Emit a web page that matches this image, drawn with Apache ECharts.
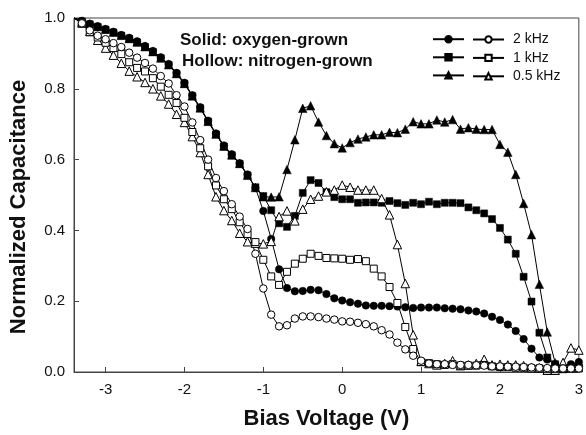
<!DOCTYPE html>
<html>
<head>
<meta charset="utf-8">
<script src="https://cdn.jsdelivr.net/npm/echarts@6/dist/echarts.min.js"></script>
<style>
  html, body { margin: 0; padding: 0; background: #fff; }
  #chart { width: 586px; height: 435px; }
</style>
</head>
<body>
<div id="chart"></div>
<script>
// Bias voltage sweep (V)
const voltage = [
  -3.4, -3.3, -3.2, -3.1, -3.0, -2.9, -2.8, -2.7, -2.6, -2.5,
  -2.4, -2.3, -2.2, -2.1, -2.0, -1.9, -1.8, -1.7, -1.6, -1.5,
  -1.4, -1.3, -1.2, -1.1, -1.0, -0.9, -0.8, -0.7, -0.6, -0.5,
  -0.4, -0.3, -0.2, -0.1, 0.0, 0.1, 0.2, 0.3, 0.4, 0.5,
  0.6, 0.7, 0.8, 0.9, 1.0, 1.1, 1.2, 1.3, 1.4, 1.5,
  1.6, 1.7, 1.8, 1.9, 2.0, 2.1, 2.2, 2.3, 2.4, 2.5,
  2.6, 2.7, 2.8, 2.9, 3.0
];

// Oxygen-grown (solid markers)
const oxy2k = [
  1.000, 0.992, 0.984, 0.977, 0.969, 0.961, 0.952, 0.944, 0.934, 0.921,
  0.907, 0.889, 0.870, 0.845, 0.817, 0.782, 0.748, 0.710, 0.674, 0.640,
  0.615, 0.590, 0.558, 0.520, 0.455, 0.376, 0.290, 0.237, 0.228, 0.229,
  0.232, 0.231, 0.220, 0.208, 0.202, 0.197, 0.193, 0.188, 0.187, 0.187,
  0.186, 0.185, 0.183, 0.181, 0.182, 0.182, 0.182, 0.180, 0.179, 0.177,
  0.174, 0.171, 0.165, 0.156, 0.147, 0.134, 0.116, 0.093, 0.066, 0.041,
  0.035, 0.022, 0.012, 0.022, 0.028
];
const oxy1k = [
  1.000, 0.990, 0.982, 0.975, 0.967, 0.959, 0.950, 0.941, 0.931, 0.918,
  0.904, 0.886, 0.867, 0.842, 0.814, 0.779, 0.745, 0.707, 0.671, 0.637,
  0.612, 0.588, 0.555, 0.522, 0.497, 0.457, 0.420, 0.410, 0.441, 0.506,
  0.542, 0.534, 0.508, 0.494, 0.488, 0.488, 0.478, 0.479, 0.479, 0.478,
  0.483, 0.477, 0.472, 0.478, 0.474, 0.481, 0.474, 0.478, 0.478, 0.477,
  0.465, 0.457, 0.448, 0.432, 0.407, 0.374, 0.334, 0.269, 0.199, 0.111,
  0.041, 0.022, 0.008, 0.010, 0.012
];
const oxy05k = [
  1.000, 0.991, 0.983, 0.976, 0.968, 0.960, 0.951, 0.942, 0.932, 0.919,
  0.905, 0.887, 0.868, 0.843, 0.815, 0.780, 0.746, 0.708, 0.672, 0.638,
  0.613, 0.589, 0.556, 0.521, 0.495, 0.494, 0.495, 0.572, 0.656, 0.745,
  0.752, 0.706, 0.668, 0.645, 0.633, 0.648, 0.658, 0.664, 0.670, 0.670,
  0.677, 0.676, 0.686, 0.707, 0.701, 0.701, 0.712, 0.706, 0.713, 0.686,
  0.690, 0.686, 0.685, 0.685, 0.643, 0.621, 0.558, 0.476, 0.388, 0.248,
  0.113, 0.026, 0.010, 0.012, 0.027
];

// Nitrogen-grown (hollow markers)
const nit2k = [
  1.000, 0.985, 0.965, 0.950, 0.940, 0.929, 0.918, 0.902, 0.888, 0.873,
  0.857, 0.836, 0.815, 0.782, 0.750, 0.705, 0.655, 0.600, 0.548, 0.511,
  0.474, 0.439, 0.404, 0.334, 0.236, 0.162, 0.129, 0.132, 0.151, 0.157,
  0.157, 0.155, 0.151, 0.148, 0.143, 0.142, 0.139, 0.135, 0.129, 0.118,
  0.106, 0.083, 0.064, 0.046, 0.032, 0.024, 0.022, 0.022, 0.020, 0.020,
  0.020, 0.019, 0.018, 0.016, 0.016, 0.015, 0.015, 0.014, 0.013, 0.012,
  0.011, 0.010, 0.010, 0.010, 0.010
];
const nit1k = [
  1.000, 0.985, 0.960, 0.945, 0.930, 0.915, 0.898, 0.875, 0.859, 0.849,
  0.830, 0.806, 0.783, 0.760, 0.718, 0.678, 0.632, 0.581, 0.527, 0.488,
  0.460, 0.423, 0.390, 0.367, 0.317, 0.270, 0.246, 0.283, 0.306, 0.320,
  0.334, 0.328, 0.322, 0.321, 0.320, 0.317, 0.319, 0.313, 0.292, 0.270,
  0.240, 0.195, 0.127, 0.065, 0.028, 0.025, 0.022, 0.020, 0.022, 0.018,
  0.018, 0.018, 0.020, 0.016, 0.014, 0.014, 0.012, 0.012, 0.010, 0.010,
  0.008, 0.008, 0.010, 0.010, 0.010
];
const nit05k = [
  1.000, 0.986, 0.962, 0.937, 0.915, 0.895, 0.872, 0.850, 0.834, 0.818,
  0.800, 0.780, 0.757, 0.728, 0.705, 0.665, 0.620, 0.558, 0.495, 0.456,
  0.428, 0.392, 0.368, 0.364, 0.362, 0.369, 0.439, 0.455, 0.427, 0.460,
  0.488, 0.497, 0.509, 0.514, 0.528, 0.522, 0.514, 0.514, 0.514, 0.490,
  0.444, 0.360, 0.250, 0.105, 0.030, 0.024, 0.020, 0.024, 0.032, 0.018,
  0.020, 0.024, 0.036, 0.020, 0.022, 0.020, 0.020, 0.018, 0.013, 0.012,
  0.005, 0.005, 0.027, 0.068, 0.062
];

// Axis tick values
const xTicks = [-3, -2, -1, 0, 1, 2, 3];
const yTicks = [0, 0.2, 0.4, 0.6, 0.8, 1.0];

const FONT = 'Liberation Sans, Arial, Helvetica, sans-serif';
const INK = '#111';

// Pair each reading with its voltage; the first point sits on the plot
// corner, so it is drawn as a line end without a marker.
function pairs(vals) {
  return voltage.map((v, i) =>
    i === 0 ? { value: [v, vals[i]], symbol: 'none' } : [v, vals[i]]
  );
}

function makeSeries(name, vals, symbol, size, hollow) {
  return {
    name: name,
    type: 'line',
    data: pairs(vals),
    symbol: symbol,
    symbolSize: size,
    showAllSymbol: true,
    lineStyle: { color: '#000', width: 1 },
    itemStyle: hollow
      ? { color: '#fff', borderColor: '#000', borderWidth: 1 }
      : { color: '#000', borderColor: '#000', borderWidth: 0.5 },
    emphasis: { disabled: true },
    silent: true
  };
}

const chart = echarts.init(document.getElementById('chart'), null, { renderer: 'canvas' });

const legendCommon = {
  orient: 'vertical',
  itemWidth: 31,
  itemHeight: 8,
  padding: 0,
  selectedMode: false,
  textStyle: { fontFamily: FONT, fontSize: 14, color: INK }
};

chart.setOption({
  animation: false,
  backgroundColor: '#fff',
  grid: {
    left: 74, right: 3, top: 18, bottom: 59,
    show: true, borderColor: '#444', borderWidth: 1, backgroundColor: 'transparent'
  },
  xAxis: {
    type: 'value',
    min: -3.4,
    max: 3.0,
    name: 'Bias Voltage (V)',
    nameLocation: 'middle',
    nameGap: 36,
    nameTextStyle: { fontFamily: FONT, fontSize: 22, fontWeight: 'bold', color: INK },
    axisLine: { show: true, onZero: false, lineStyle: { color: '#444', width: 1 } },
    axisTick: { show: true, inside: true, length: 5, customValues: xTicks, lineStyle: { color: '#444' } },
    axisLabel: {
      customValues: xTicks,
      margin: 10,
      fontFamily: FONT, fontSize: 15, color: INK,
      formatter: v => String(v)
    },
    splitLine: { show: false }
  },
  yAxis: {
    type: 'value',
    min: 0,
    max: 1,
    interval: 0.2,
    name: 'Normalized Capacitance',
    nameLocation: 'middle',
    nameGap: 44,
    nameTextStyle: {
      fontFamily: FONT, fontSize: 22, fontWeight: 'bold', color: INK,
      padding: [0, 24, 0, 0]
    },
    axisLine: { show: true, onZero: false, lineStyle: { color: '#444', width: 1 } },
    axisTick: { show: true, inside: true, length: 5, customValues: yTicks, lineStyle: { color: '#444' } },
    axisLabel: {
      customValues: yTicks,
      margin: 9,
      fontFamily: FONT, fontSize: 15, color: INK,
      formatter: v => v.toFixed(1)
    },
    splitLine: { show: false }
  },
  legend: [
    Object.assign({}, legendCommon, {
      left: 432,
      top: 35,
      itemGap: 9.7,
      data: ['oxygen 2 kHz', 'oxygen 1 kHz', 'oxygen 0.5 kHz'],
      formatter: () => ''
    }),
    Object.assign({}, legendCommon, {
      left: 472,
      top: 32.5,
      itemGap: 4.4,
      data: ['2 kHz', '1 kHz', '0.5 kHz'],
      textStyle: { fontFamily: FONT, fontSize: 14, color: INK, padding: [0, 0, 0, 4] }
    })
  ],
  graphic: [
    {
      type: 'text', left: 180, top: 32, silent: true,
      style: { text: 'Solid: oxygen-grown', font: 'bold 17px ' + FONT, fill: INK }
    },
    {
      type: 'text', left: 182, top: 52.5, silent: true,
      style: { text: 'Hollow: nitrogen-grown', font: 'bold 17px ' + FONT, fill: INK }
    }
  ],
  series: [
    makeSeries('oxygen 0.5 kHz', oxy05k, 'triangle', 8.5, false),
    makeSeries('oxygen 1 kHz', oxy1k, 'rect', 7, false),
    makeSeries('oxygen 2 kHz', oxy2k, 'circle', 7.5, false),
    makeSeries('0.5 kHz', nit05k, 'triangle', 8.5, true),
    makeSeries('1 kHz', nit1k, 'rect', 7, true),
    makeSeries('2 kHz', nit2k, 'circle', 7.5, true)
  ]
});
</script>
</body>
</html>
